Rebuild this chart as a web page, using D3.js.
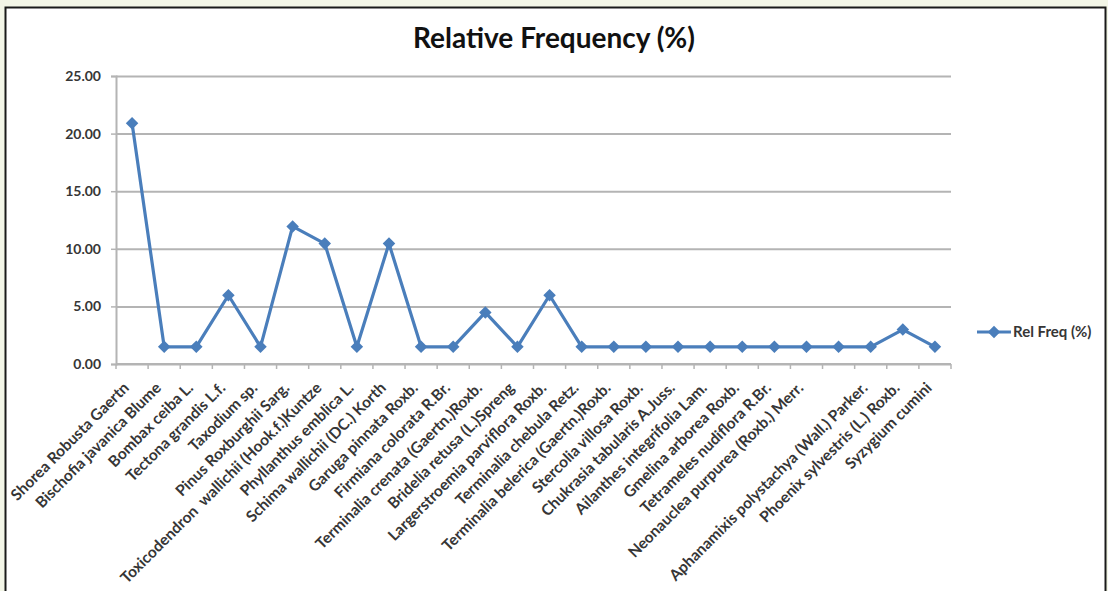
<!DOCTYPE html>
<html>
<head>
<meta charset="utf-8">
<script src="https://cdn.jsdelivr.net/npm/d3@7"></script>
<style>
  html, body { margin: 0; padding: 0; background: #f3f6e7; }
  svg { display: block; }
  text { font-family: Lato, "Open Sans", sans-serif; }
</style>
</head>
<body>
<svg id="chart" width="1108" height="591"></svg>
<script>
// Tree species (category axis)
const species = [
  "Shorea Robusta Gaertn",
  "Bischofia javanica Blume",
  "Bombax ceiba L.",
  "Tectona grandis L.f.",
  "Taxodium sp.",
  "Pinus Roxburghii Sarg.",
  "Toxicodendron  wallichii (Hook.f.)Kuntze",
  "Phyllanthus emblica L.",
  "Schima wallichii (DC.) Korth",
  "Garuga pinnata Roxb.",
  "Firmiana colorata R.Br.",
  "Terminalia crenata (Gaertn.)Roxb.",
  "Bridelia retusa (L.)Spreng",
  "Largerstroemia parviflora Roxb.",
  "Terminalia chebula Retz.",
  "Terminalia belerica (Gaertn.)Roxb.",
  "Stercolia villosa Roxb.",
  "Chukrasia tabularis A.Juss.",
  "Ailanthes integrifolia Lam.",
  "Gmelina arborea Roxb.",
  "Tetrameles nudiflora R.Br.",
  "Neonauclea purpurea (Roxb.) Merr.",
  "",
  "Aphanamixis polystachya (Wall.) Parker.",
  "Phoenix sylvestris (L.) Roxb.",
  "Syzygium cumini"
];

// Relative frequency (%) of each species
const relFreq = [
  20.90, 1.49, 1.49, 5.97, 1.49, 11.94, 10.45, 1.49, 10.45, 1.49,
  1.49, 4.48, 1.49, 5.97, 1.49, 1.49, 1.49, 1.49, 1.49, 1.49,
  1.49, 1.49, 1.49, 1.49, 2.99, 1.49
];

// Value axis ticks
const yTicks = [0, 5, 10, 15, 20, 25];

const seriesName = "Rel Freq (%)";
const chartTitle = "Relative Frequency (%)";

const svg = d3.select("#chart");
const plot = { left: 116, right: 951, top: 76, bottom: 364 };
const lineColor = "#4a7ebb";
const gridColor = "#b4b4b4";
const textColor = "#363636";

// Chart area frame
svg.append("rect")
  .attr("x", 5.5).attr("y", 7.5)
  .attr("width", 1100).attr("height", 600)
  .attr("fill", "#ffffff")
  .attr("stroke", "#1a1a1a").attr("stroke-width", 2);

const x = d3.scaleBand().domain(d3.range(species.length))
  .range([plot.left, plot.right]).paddingInner(0).paddingOuter(0);
const y = d3.scaleLinear().domain([0, 25]).range([plot.bottom, plot.top]);
const cx = i => x(i) + x.bandwidth() / 2;

// Title
svg.append("text")
  .attr("x", 554).attr("y", 48)
  .attr("text-anchor", "middle")
  .attr("font-size", 28).attr("font-weight", 700)
  .attr("fill", "#111")
  .text(chartTitle);

// Horizontal gridlines
const grid = svg.append("g")
  .attr("transform", `translate(${plot.left},0)`)
  .call(d3.axisLeft(y).tickValues(yTicks).tickSize(-(plot.right - plot.left)).tickFormat(""));
grid.select(".domain").remove();
grid.selectAll("line").attr("stroke", gridColor).attr("stroke-width", 2);

// Value axis with labels
const yAxis = svg.append("g")
  .attr("transform", `translate(${plot.left},0)`)
  .call(d3.axisLeft(y).tickValues(yTicks).tickSize(5).tickPadding(10).tickFormat(d3.format(".2f")));
yAxis.select(".domain").attr("stroke", gridColor).attr("stroke-width", 2);
yAxis.selectAll("line").attr("stroke", gridColor).attr("stroke-width", 1.5);
yAxis.selectAll("text")
  .attr("font-size", 14).attr("font-weight", 700)
  .attr("fill", textColor)
  .style("font-family", "Lato, sans-serif");

// Category axis: tick marks at band boundaries
const xAxisG = svg.append("g").attr("transform", `translate(0,${plot.bottom})`);
xAxisG.append("line")
  .attr("x1", plot.left).attr("x2", plot.right)
  .attr("stroke", gridColor).attr("stroke-width", 2);
xAxisG.selectAll("line.tick")
  .data(d3.range(species.length + 1))
  .join("line")
  .attr("class", "tick")
  .attr("x1", i => plot.left + i * x.step())
  .attr("x2", i => plot.left + i * x.step())
  .attr("y1", 0).attr("y2", 5)
  .attr("stroke", gridColor).attr("stroke-width", 1.5);

// Rotated category labels
svg.append("g").selectAll("text")
  .data(species)
  .join("text")
  .attr("transform", (d, i) => `translate(${cx(i) - 6},${plot.bottom + 21}) rotate(-45)`)
  .attr("text-anchor", "end")
  .attr("dy", "0.35em")
  .attr("font-size", 15.5).attr("font-weight", 700)
  .attr("fill", textColor)
  .style("white-space", "pre")
  .text(d => d);

// Series line
const line = d3.line().x((d, i) => cx(i)).y(d => y(d));
svg.append("path")
  .datum(relFreq)
  .attr("d", line)
  .attr("fill", "none")
  .attr("stroke", lineColor).attr("stroke-width", 3.2)
  .attr("stroke-linejoin", "round");

// Diamond markers
const diamond = d3.symbol().type(d3.symbolDiamond2).size(100);
svg.append("g").selectAll("path")
  .data(relFreq)
  .join("path")
  .attr("d", diamond)
  .attr("transform", (d, i) => `translate(${cx(i)},${y(d)})`)
  .attr("fill", lineColor);

// Legend
const lg = svg.append("g").attr("transform", "translate(977,332)");
lg.append("line").attr("x1", 0).attr("x2", 34)
  .attr("stroke", lineColor).attr("stroke-width", 3);
lg.append("path").attr("d", diamond).attr("transform", "translate(17,0)").attr("fill", lineColor);
lg.append("text")
  .attr("x", 36).attr("y", 0).attr("dy", "0.35em")
  .attr("font-size", 15).attr("font-weight", 700)
  .attr("fill", textColor)
  .text(seriesName);
</script>
</body>
</html>
